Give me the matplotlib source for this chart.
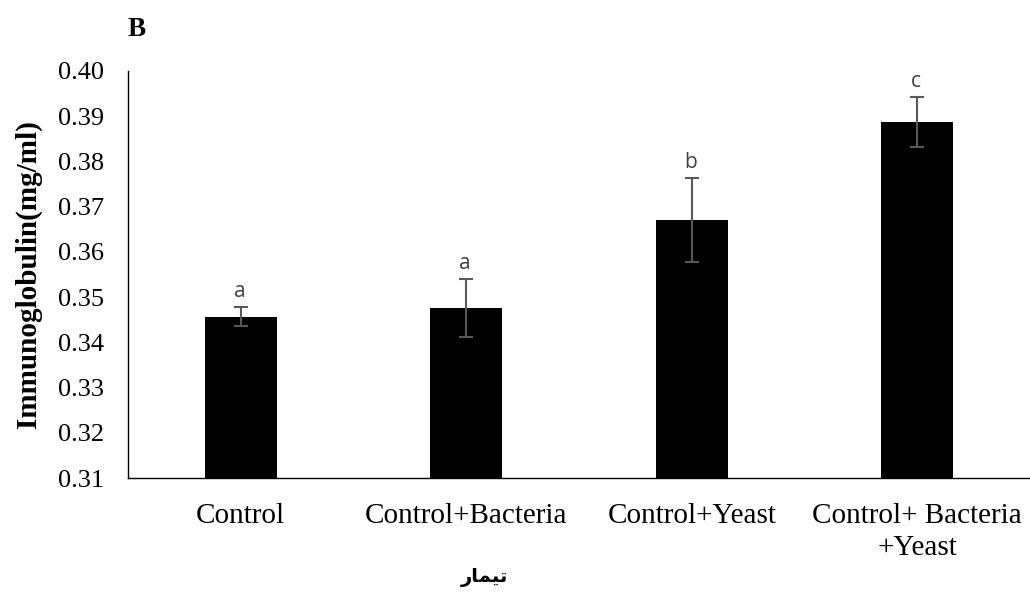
import numpy as np
import matplotlib.pyplot as plt

# داده‌ها
categories = ['Control', 'Control+Bacteria', 'Control+Yeast', 'Control+ Bacteria\n+Yeast']
means = [0.3457, 0.3476, 0.3671, 0.3888]
errors = [0.0021, 0.0064, 0.0093, 0.0055]
letters = ['a', 'a', 'b', 'c']
yticks = [0.31, 0.32, 0.33, 0.34, 0.35, 0.36, 0.37, 0.38, 0.39, 0.40]

# "تیمار" in presentation forms, visual order (matplotlib does no shaping)
xlabel = '\ufead\ufe8e\ufee4\ufbff\ufe97'

plt.rcParams['font.family'] = ['Liberation Serif', 'DejaVu Serif']

fig = plt.figure(figsize=(10.3, 5.95), dpi=100)
ax = fig.add_axes([0.1243, 0.1966, 0.8757, 0.6841])

x = np.arange(len(categories))
ax.bar(x, means, width=0.32, color='black', zorder=2)
ax.errorbar(x, means, yerr=errors, fmt='none', ecolor='#595959',
            elinewidth=1.5, capsize=5, capthick=1.5, zorder=3)

for xi, m, e, lt in zip(x, means, errors, letters):
    ax.annotate(lt, (xi, m + e), xytext=(-1, 11), textcoords='offset points',
                ha='center', va='center', fontsize=15, color='#404040',
                family=['Open Sans', 'DejaVu Sans'])

ax.set_xlim(-0.5, len(categories) - 0.5)
ax.set_ylim(0.31, 0.40)
ax.set_yticks(yticks)
ax.set_yticklabels(['%.2f' % v for v in yticks])
ax.set_xticks(x)
ax.set_xticklabels(categories, linespacing=1.3)
ax.tick_params(axis='both', length=0)
ax.tick_params(axis='x', pad=18, labelsize=21)
ax.tick_params(axis='y', pad=17, labelsize=19)

for s in ['top', 'right']:
    ax.spines[s].set_visible(False)
ax.spines['left'].set_linewidth(1.0)
ax.spines['bottom'].set_linewidth(1.0)

ax.set_ylabel('Immunoglobulin(mg/ml)', fontsize=21, fontweight='bold', labelpad=12)
fig.text(0.47, 0.03, xlabel, ha='center', va='center', fontsize=14,
         fontweight='bold', family=['DejaVu Sans'])
fig.text(0.124, 0.951, 'B', ha='left', va='center', fontsize=19.5, fontweight='bold')

fig.savefig('out.png', dpi=100)
